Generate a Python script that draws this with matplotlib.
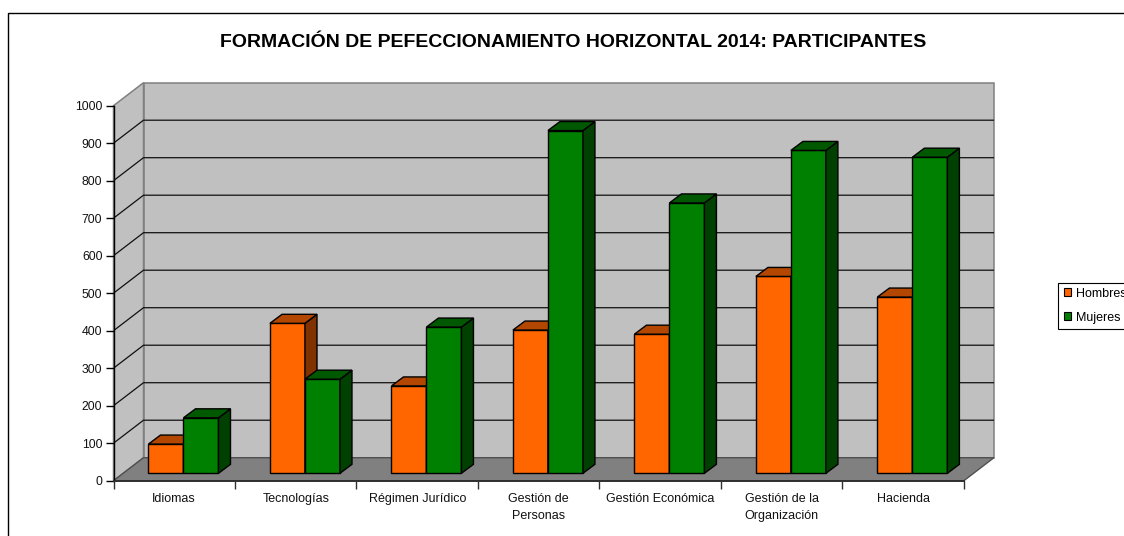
import numpy as np
import matplotlib
matplotlib.use('Agg')
import matplotlib.pyplot as plt
from matplotlib.patches import Polygon, Rectangle

plt.rcParams['font.family'] = ['Liberation Sans', 'DejaVu Sans']

# data
categorias = ['Idiomas', 'Tecnologías', 'Régimen Jurídico', 'Gestión de\nPersonas',
              'Gestión Económica', 'Gestión de la\nOrganización', 'Hacienda']
hombres = [78, 400, 233, 382, 371, 525, 470]
mujeres = [148, 251, 390, 914, 721, 861, 843]
y_ticks = [0, 100, 200, 300, 400, 500, 600, 700, 800, 900, 1000]

# pseudo 3D, depth in data units
DEPTH_X = 0.247
DEPTH_Y = 61.3
BAR_W = 0.288
BAR_START = 0.288
BAR_BASE = 19.7
BAR_DX = 0.099
BAR_DY = 24

C_WALL = '#C0C0C0'
C_FLOOR = '#808080'
C_ORANGE = ('#FF6600', '#B34700', '#803300')
C_GREEN = ('#008000', '#005900', '#004000')

n = len(categorias)
fig = plt.figure(figsize=(11.24, 5.36), dpi=100, facecolor='white')
ax = fig.add_axes([113.5 / 1124, 1 - 480.7 / 536, (993.9 - 113.5) / 1124, (480.7 - 82.7) / 536])
ax.patch.set_alpha(0)
ax.set_xlim(0, n + DEPTH_X)
ax.set_ylim(0, 1000 + DEPTH_Y)


def poly(points, color, edge, lw=1.0, z=1):
    ax.add_patch(Polygon(points, closed=True, facecolor=color, edgecolor=edge, lw=lw,
                         zorder=z, clip_on=False, joinstyle='miter'))


# walls and floor
poly([(DEPTH_X, DEPTH_Y), (n + DEPTH_X, DEPTH_Y), (n + DEPTH_X, 1000 + DEPTH_Y), (DEPTH_X, 1000 + DEPTH_Y)],
     C_WALL, '#808080', 1.1)
poly([(0, 0), (DEPTH_X, DEPTH_Y), (DEPTH_X, 1000 + DEPTH_Y), (0, 1000)], C_WALL, '#808080', 1.1)
poly([(0, 0), (n, 0), (n + DEPTH_X, DEPTH_Y), (DEPTH_X, DEPTH_Y)], C_FLOOR, '#505050', 1.0)

# gridlines
for v in y_ticks[1:-1]:
    ax.plot([0, DEPTH_X, n + DEPTH_X], [v, v + DEPTH_Y, v + DEPTH_Y], color='#101010', lw=0.9, zorder=2)


def barra(x, h, cols):
    top = BAR_BASE + h
    ax.bar(x, h, width=BAR_W, bottom=BAR_BASE, align='edge', color=cols[0], edgecolor='black', lw=1.0, zorder=3)
    poly([(x + BAR_W, BAR_BASE), (x + BAR_W + BAR_DX, BAR_BASE + BAR_DY),
          (x + BAR_W + BAR_DX, top + BAR_DY), (x + BAR_W, top)], cols[2], 'black', 1.0, 3)
    poly([(x, top), (x + BAR_DX, top + BAR_DY), (x + BAR_W + BAR_DX, top + BAR_DY), (x + BAR_W, top)],
         cols[1], 'black', 1.0, 3)


pos = np.arange(n)
for i in pos:
    barra(i + BAR_START, hombres[i], C_ORANGE)
    barra(i + BAR_START + BAR_W, mujeres[i], C_GREEN)

# axes
for s in ['top', 'right']:
    ax.spines[s].set_visible(False)
ax.spines['left'].set_bounds(0, 1000)
ax.spines['left'].set_linewidth(1.0)
ax.spines['left'].set_zorder(5)
ax.spines['bottom'].set_bounds(0, n)
ax.spines['bottom'].set_linewidth(1.4)
ax.spines['bottom'].set_color('#303030')
ax.spines['bottom'].set_zorder(5)

ax.set_yticks(y_ticks)
ax.set_yticklabels([str(v) for v in y_ticks], fontsize=8.8, color='#111111')
ax.tick_params(axis='y', length=6, width=1.0, pad=2)
ax.set_xticks(np.arange(n + 1))
ax.set_xticklabels([])
ax.tick_params(axis='x', which='major', length=6, width=1.0, color='#303030')
ax.set_xticks(pos + 0.5, minor=True)
ax.set_xticklabels(categorias, minor=True, fontsize=9, color='#111111', linespacing=1.6)
ax.tick_params(axis='x', which='minor', length=0, pad=8.5)

fig.text(573 / 1124, 1 - 42 / 536, 'FORMACIÓN DE PEFECCIONAMIENTO HORIZONTAL 2014: PARTICIPANTES',
         ha='center', va='center', fontsize=14, fontweight='bold', family='Liberation Sans', color='black')

# marco exterior (se corta por la derecha y abajo)
fig.add_artist(Rectangle((8.2 / 1124, -0.05), 1.1, 1 - 13.5 / 536 + 0.05, transform=fig.transFigure,
                         facecolor='none', edgecolor='black', lw=1.0, zorder=0))

# leyenda
handles = [Rectangle((0, 0), 1, 1, facecolor=C_ORANGE[0], edgecolor='black', lw=0.8),
           Rectangle((0, 0), 1, 1, facecolor=C_GREEN[0], edgecolor='black', lw=0.8)]
leg = fig.legend(handles, ['Hombres', 'Mujeres'], loc='upper left',
                 bbox_to_anchor=(1058.3 / 1124, 1 - 282.5 / 536), fontsize=9, fancybox=False,
                 framealpha=1, edgecolor='black', borderaxespad=0, borderpad=0.42, handlelength=0.62,
                 handleheight=0.62, handletextpad=0.35, labelspacing=0.95)
leg.get_frame().set_linewidth(0.8)

plt.savefig('out.png', dpi=100)
